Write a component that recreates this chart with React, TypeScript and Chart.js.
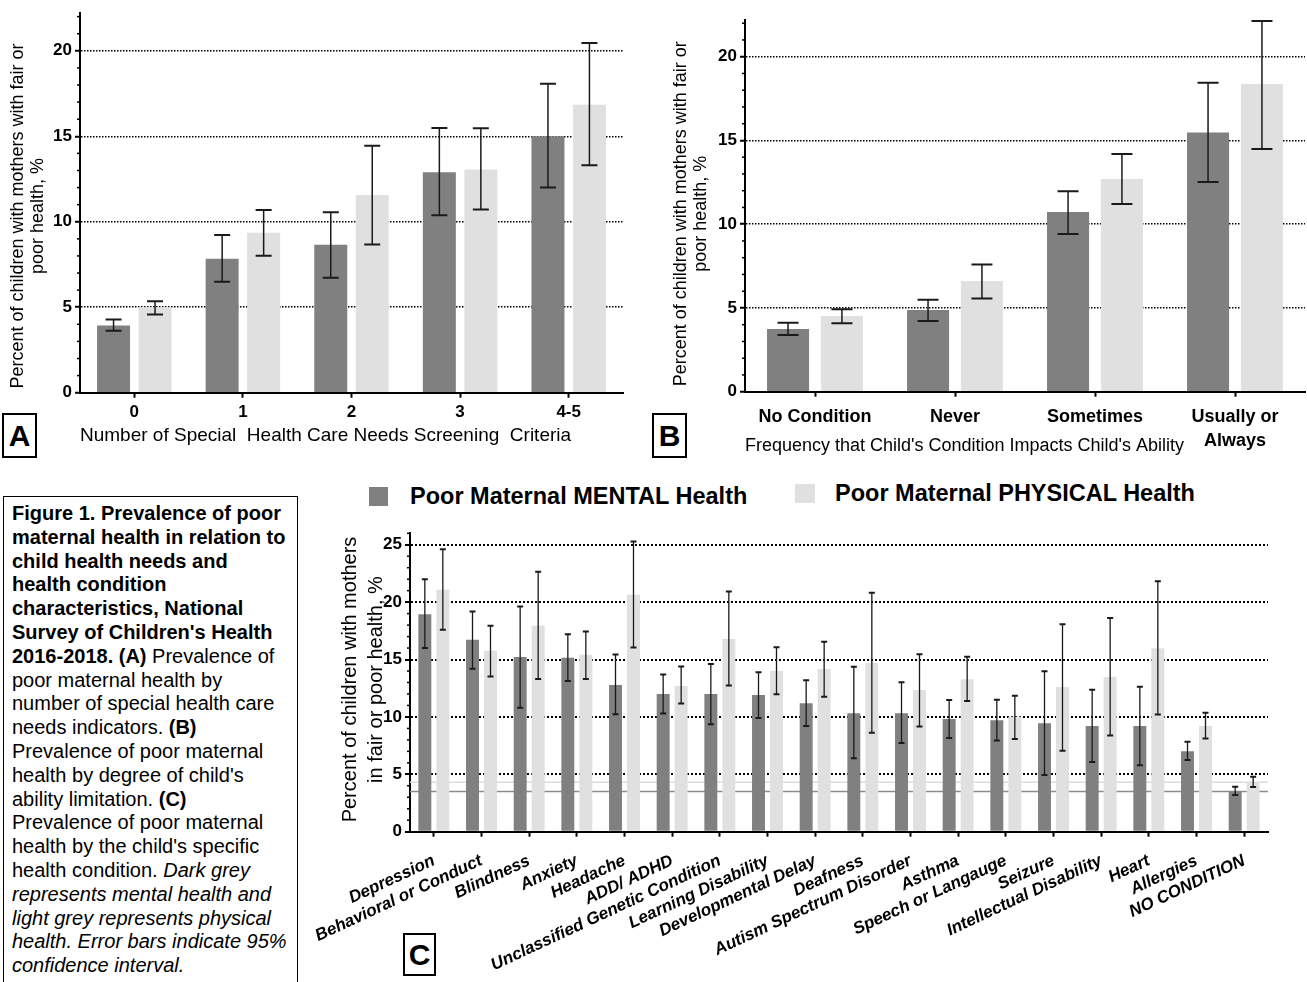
import React, { useEffect, useRef } from "react";
import { Chart, registerables } from "chart.js";
Chart.register(...registerables);

const FONT = "'Liberation Sans', Arial, Helvetica, sans-serif";
const DARK = "#808080";
const LIGHT = "#e0e0e0";

// ---------- Panel A ----------
const catsA = ["0", "1", "2", "3", "4-5"];
const mentalA = [3.93, 7.83, 8.65, 12.9, 15.0];
const mentalALo = [3.63, 6.49, 6.72, 10.38, 12.01];
const mentalAHi = [4.28, 9.23, 10.55, 15.49, 18.08];
const physA = [5.0, 9.35, 11.56, 13.06, 16.85];
const physALo = [4.57, 8.01, 8.67, 10.71, 13.31];
const physAHi = [5.35, 10.69, 14.44, 15.47, 20.45];
const xTitleA = "Number of Special  Health Care Needs Screening  Criteria";
const yTitleAB = ["Percent of children with mothers with fair or", "poor health, %"];

// ---------- Panel B ----------
const catsB = ["No Condition", "Never", "Sometimes", ["Usually or", "Always"]];
const mentalB = [3.74, 4.88, 10.73, 15.48];
const mentalBLo = [3.38, 4.22, 9.41, 12.52];
const mentalBHi = [4.12, 5.49, 11.96, 18.45];
const physB = [4.52, 6.61, 12.7, 18.37];
const physBLo = [4.08, 5.57, 11.2, 14.49];
const physBHi = [4.92, 7.6, 14.19, 22.13];
const xTitleB = "Frequency that Child's Condition Impacts Child's Ability";

// ---------- Panel C ----------
const catsC = [
  "Depression", "Behavioral or Conduct", "Blindness", "Anxiety", "Headache", "ADD/ ADHD",
  "Unclassified Genetic Condition", "Learning Disability", "Developmental Delay", "Deafness",
  "Autism Spectrum Disorder", "Asthma", "Speech or Langauge", "Seizure", "Intellectual Disability",
  "Heart", "Allergies", "NO CONDITION",
];
const mentalC = [18.95, 16.72, 15.23, 15.15, 12.79, 12.0, 12.0, 11.92, 11.2, 10.33, 10.33, 9.81, 9.72, 9.46, 9.2, 9.2, 7.02, 3.51];
const mentalCLo = [16.0, 14.19, 10.81, 13.14, 10.23, 10.29, 9.36, 9.91, 9.2, 6.41, 7.72, 8.16, 7.95, 4.93, 6.07, 5.78, 6.24, 3.19];
const mentalCHi = [22.0, 19.19, 19.62, 17.21, 15.44, 13.69, 14.62, 13.9, 13.2, 14.37, 13.03, 11.47, 11.49, 13.99, 12.37, 12.63, 7.84, 3.92];
const physC = [21.08, 15.76, 17.94, 15.41, 20.64, 12.7, 16.8, 14.01, 14.17, 14.69, 12.34, 13.29, 10.01, 12.6, 13.47, 15.99, 9.2, 4.3];
const physCLo = [17.6, 13.52, 13.31, 13.31, 16.05, 11.16, 12.73, 11.98, 11.76, 8.62, 9.17, 11.38, 8.07, 7.05, 8.39, 10.22, 8.13, 3.89];
const physCHi = [24.6, 17.94, 22.65, 17.44, 25.29, 14.39, 20.93, 16.08, 16.55, 20.81, 15.47, 15.24, 11.84, 18.08, 18.61, 21.83, 10.36, 4.79];
const yTitleC = ["Percent of children with mothers", "in fair or poor health, %"];

const seriesNames = ["Poor Maternal MENTAL Health", "Poor Maternal PHYSICAL Health"];

// ---------- plugins ----------
const errorBarPlugin = {
  id: "errorBars",
  afterDatasetsDraw(chart: any, _args: any, opts: any) {
    const ctx = chart.ctx;
    const y = chart.scales.y;
    chart.data.datasets.forEach((ds: any, di: number) => {
      if (!ds.errLo) return;
      const meta = chart.getDatasetMeta(di);
      meta.data.forEach((bar: any, i: number) => {
        const x = bar.x;
        const yl = y.getPixelForValue(ds.errLo[i]);
        const yh = y.getPixelForValue(ds.errHi[i]);
        ctx.save();
        ctx.strokeStyle = opts.color;
        ctx.lineWidth = opts.lineWidth;
        ctx.beginPath();
        ctx.moveTo(x, yl);
        ctx.lineTo(x, yh);
        ctx.stroke();
        ctx.lineWidth = opts.capLineWidth;
        ctx.beginPath();
        ctx.moveTo(x - opts.cap / 2, yh);
        ctx.lineTo(x + opts.cap / 2, yh);
        ctx.moveTo(x - opts.cap / 2, yl);
        ctx.lineTo(x + opts.cap / 2, yl);
        ctx.stroke();
        ctx.restore();
      });
    });
  },
};

const minorTickPlugin = {
  id: "minorTicks",
  afterDraw(chart: any, _args: any, opts: any) {
    const y = chart.scales.y;
    const ctx = chart.ctx;
    const x0 = chart.chartArea.left;
    ctx.save();
    ctx.strokeStyle = "#000";
    ctx.lineWidth = 1.5;
    for (let v = 1; v <= y.max; v += 1) {
      if (v % 5 === 0) continue;
      const py = y.getPixelForValue(v);
      ctx.beginPath();
      ctx.moveTo(x0 - opts.len, py);
      ctx.lineTo(x0, py);
      ctx.stroke();
    }
    ctx.restore();
  },
};

const refLinePlugin = {
  id: "refLines",
  beforeDatasetsDraw(chart: any, _args: any, opts: any) {
    if (!opts || !opts.lines) return;
    const y = chart.scales.y;
    const ctx = chart.ctx;
    const { left, right } = chart.chartArea;
    opts.lines.forEach((l: any) => {
      const py = y.getPixelForValue(l.value);
      ctx.save();
      ctx.strokeStyle = l.color;
      ctx.lineWidth = 1.5;
      ctx.beginPath();
      ctx.moveTo(left, py);
      ctx.lineTo(right, py);
      ctx.stroke();
      ctx.restore();
    });
  },
};

// y-axis title drawn at a chosen offset from the chart-area centre
const yTitlePlugin = {
  id: "yTitle",
  afterDraw(chart: any, _args: any, opts: any) {
    if (!opts || !opts.lines) return;
    const ctx = chart.ctx;
    const ca = chart.chartArea;
    const cy = (ca.top + ca.bottom) / 2 + (opts.dy || 0);
    ctx.save();
    ctx.fillStyle = "#000";
    ctx.font = `${opts.size}px ${FONT}`;
    ctx.textAlign = "center";
    ctx.textBaseline = "middle";
    opts.lines.forEach((line: string, i: number) => {
      ctx.save();
      ctx.translate(opts.xs[i], cy);
      ctx.rotate(-Math.PI / 2);
      ctx.fillText(line, 0, 0);
      ctx.restore();
    });
    ctx.restore();
  },
};

function buildConfig(p: any) {
  return {
    type: "bar",
    data: {
      labels: p.labels,
      datasets: [
        {
          label: seriesNames[0], data: p.mental, errLo: p.mentalLo, errHi: p.mentalHi,
          backgroundColor: DARK, categoryPercentage: p.catPct, barPercentage: p.barPct,
        },
        {
          label: seriesNames[1], data: p.phys, errLo: p.physLo, errHi: p.physHi,
          backgroundColor: LIGHT, categoryPercentage: p.catPct, barPercentage: p.barPct,
        },
      ],
    },
    options: {
      responsive: false,
      animation: false,
      layout: { padding: p.padding },
      plugins: {
        legend: { display: false },
        tooltip: { enabled: false },
        errorBars: p.err,
        minorTicks: { len: 3 },
        refLines: p.refLines || {},
        yTitle: p.yTitle,
      },
      scales: {
        x: {
          offset: true,
          grid: { offset: false, drawOnChartArea: false, drawTicks: true, tickLength: 5, tickWidth: 2, tickColor: "#000" },
          border: { display: true, color: "#000", width: 2 },
          ticks: {
            color: "#000", font: p.xTickFont, padding: p.xTickPad, autoSkip: false,
            maxRotation: p.rot, minRotation: p.rot,
          },
          title: p.xTitle,
          afterFit: (s: any) => { s.height = p.xHeight; },
        },
        y: {
          min: 0,
          max: p.yMax,
          ticks: { stepSize: 5, includeBounds: false, color: "#000", font: p.yTickFont, padding: 3 },
          grid: {
            color: (c: any) => (c.tick && c.tick.value > 0 ? "#000" : "rgba(0,0,0,0)"),
            lineWidth: p.gridWidth,
            tickColor: "#000", tickLength: 5, tickWidth: 2, drawTicks: true,
          },
          border: { display: true, color: "#000", width: 2, dash: p.gridDash },
          title: { display: false },
          afterFit: (s: any) => { s.width = p.yWidth; },
        },
      },
    },
    plugins: [errorBarPlugin, minorTickPlugin, refLinePlugin, yTitlePlugin],
  };
}

const cfgA = () => buildConfig({
  labels: catsA, mental: mentalA, mentalLo: mentalALo, mentalHi: mentalAHi,
  phys: physA, physLo: physALo, physHi: physAHi,
  catPct: 0.764, barPct: 0.795,
  padding: { top: 12, right: 37, left: 0, bottom: 0 },
  err: { color: "#1a1a1a", lineWidth: 1.5, capLineWidth: 2, cap: 16 },
  xTickFont: { family: FONT, size: 17, weight: "bold" }, xTickPad: 4, rot: 0,
  xTitle: {
    display: true, text: xTitleA, color: "#000", align: "start",
    font: { family: FONT, size: 19 }, padding: { top: 0, bottom: 22.6 },
  },
  xHeight: 77.3,
  yMax: 22.2,
  yTickFont: { family: FONT, size: 17, weight: "bold" },
  gridWidth: 1.5, gridDash: [1.5, 1.5],
  yTitle: { lines: yTitleAB, size: 18, xs: [18, 38], dy: 13 },
  yWidth: 80,
});

const cfgB = () => buildConfig({
  labels: catsB, mental: mentalB, mentalLo: mentalBLo, mentalHi: mentalBHi,
  phys: physB, physLo: physBLo, physHi: physBHi,
  catPct: 0.77, barPct: 0.78,
  padding: { top: 19.85, right: 2, left: 0, bottom: 0 },
  err: { color: "#1a1a1a", lineWidth: 1.5, capLineWidth: 2, cap: 21 },
  xTickFont: { family: FONT, size: 18, weight: "bold", lineHeight: 1.3 }, xTickPad: 9, rot: 0,
  xTitle: {
    display: true, text: xTitleB, color: "#000", align: "start",
    font: { family: FONT, size: 18 }, padding: { top: 0, bottom: 13.2 },
  },
  xHeight: 78.3,
  yMax: 22.2,
  yTickFont: { family: FONT, size: 17, weight: "bold" },
  gridWidth: 1.5, gridDash: [1.5, 1.5],
  yTitle: { lines: yTitleAB, size: 18, xs: [21, 41], dy: 8 },
  yWidth: 85,
});

const cfgC = () => buildConfig({
  labels: catsC, mental: mentalC, mentalLo: mentalCLo, mentalHi: mentalCHi,
  phys: physC, physLo: physCLo, physHi: physCHi,
  catPct: 0.755, barPct: 0.72,
  padding: { top: 13.3, right: 39, left: 0, bottom: 0 },
  err: { color: "#1a1a1a", lineWidth: 1.3, capLineWidth: 2, cap: 6 },
  xTickFont: { family: FONT, size: 17, weight: "bold", style: "italic" }, xTickPad: 14, rot: 25,
  xTitle: { display: false },
  xHeight: 150.3,
  yMax: 26,
  yTickFont: { family: FONT, size: 17, weight: "bold" },
  gridWidth: 2, gridDash: [2, 2],
  yTitle: { lines: yTitleC, size: 20, xs: [50, 76], dy: -3 },
  yWidth: 110,
  refLines: {
    lines: [
      { value: mentalC[mentalC.length - 1], color: "#8c8c8c" },
      { value: physC[physC.length - 1], color: "#dcdcdc" },
    ],
  },
});

const boxStyle = (left: number, top: number, w: number, h: number): React.CSSProperties => ({
  position: "absolute", left, top, width: w, height: h, boxSizing: "border-box",
  border: "2px solid #000", background: "#fff", display: "flex", alignItems: "center",
  justifyContent: "center", fontFamily: FONT, fontWeight: "bold", fontSize: 30, color: "#000",
});

export default function App() {
  const refA = useRef<HTMLCanvasElement>(null);
  const refB = useRef<HTMLCanvasElement>(null);
  const refC = useRef<HTMLCanvasElement>(null);

  useEffect(() => {
    const charts = [
      new Chart(refA.current as any, cfgA() as any),
      new Chart(refB.current as any, cfgB() as any),
      new Chart(refC.current as any, cfgC() as any),
    ];
    return () => charts.forEach((c) => c.destroy());
  }, []);

  return (
    <div style={{ position: "absolute", left: 0, top: 0, width: 1307, height: 982, overflow: "hidden", background: "#fff", fontFamily: FONT, color: "#000" }}>
      <canvas ref={refA} width={660} height={470} style={{ position: "absolute", left: 0, top: 0, width: 660, height: 470 }} />
      <canvas ref={refB} width={647} height={470} style={{ position: "absolute", left: 660, top: 0, width: 647, height: 470 }} />
      <canvas ref={refC} width={1007} height={462} style={{ position: "absolute", left: 300, top: 520, width: 1007, height: 462 }} />

      <div style={boxStyle(2, 413, 35, 45)}>A</div>
      <div style={boxStyle(652, 413, 35, 45)}>B</div>
      <div style={boxStyle(403, 933, 33, 43)}>C</div>

      {/* Legend */}
      <div style={{ position: "absolute", left: 369, top: 487, width: 19, height: 19, background: DARK }} />
      <div style={{ position: "absolute", left: 410, top: 481, fontSize: 23.5, fontWeight: "bold", lineHeight: "30px", whiteSpace: "nowrap" }}>{seriesNames[0]}</div>
      <div style={{ position: "absolute", left: 795, top: 484, width: 20, height: 19, background: LIGHT }} />
      <div style={{ position: "absolute", left: 835, top: 478, fontSize: 23.5, fontWeight: "bold", lineHeight: "30px", whiteSpace: "nowrap" }}>{seriesNames[1]}</div>

      {/* Caption box */}
      <div style={{ position: "absolute", left: 3, top: 496, width: 295, height: 520, boxSizing: "border-box", border: "1.5px solid #000", padding: "5px 0 0 8px", fontSize: 20, lineHeight: "23.8px", whiteSpace: "nowrap" }}>
        <b>Figure 1. Prevalence of poor</b><br />
        <b>maternal health in relation to</b><br />
        <b>child health needs and</b><br />
        <b>health condition</b><br />
        <b>characteristics, National</b><br />
        <b>Survey of  Children's Health</b><br />
        <b>2016-2018. (A)</b> Prevalence of<br />
        poor maternal health by<br />
        number of special health care<br />
        needs indicators. <b>(B)</b><br />
        Prevalence of poor maternal<br />
        health by degree of child's<br />
        ability limitation. <b>(C)</b><br />
        Prevalence of poor maternal<br />
        health by the child's specific<br />
        health condition. <i>Dark grey</i><br />
        <i>represents mental health and</i><br />
        <i>light grey represents physical</i><br />
        <i>health. Error bars indicate 95%</i><br />
        <i>confidence interval.</i>
      </div>
    </div>
  );
}
